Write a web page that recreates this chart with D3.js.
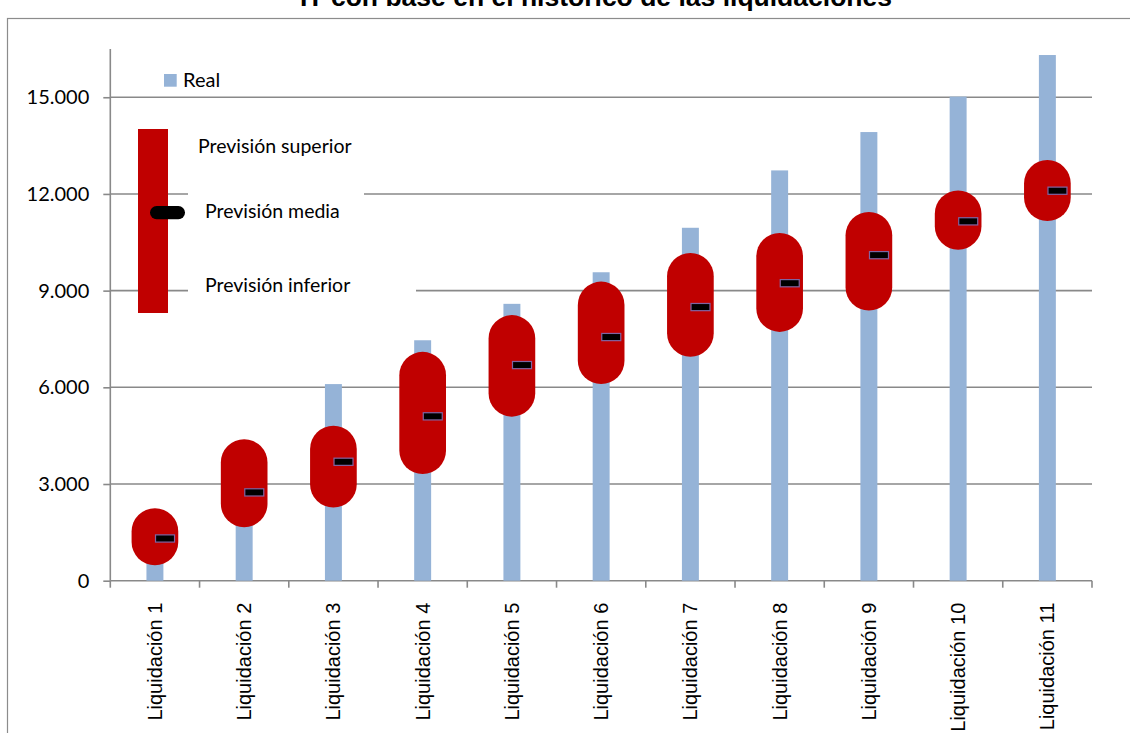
<!DOCTYPE html>
<html>
<head>
<meta charset="utf-8">
<script src="https://cdn.jsdelivr.net/npm/d3@7"></script>
<style>
  html, body { margin: 0; padding: 0; background: #fff; }
  svg { display: block; }
</style>
</head>
<body>
<svg id="chart" width="1130" height="733"></svg>
<script>
// Liquidation series: actual amount and the forecast band (upper, mean, lower)
const categories = ["Liquidación 1", "Liquidación 2", "Liquidación 3", "Liquidación 4",
  "Liquidación 5", "Liquidación 6", "Liquidación 7", "Liquidación 8",
  "Liquidación 9", "Liquidación 10", "Liquidación 11"];
const realValues  = [2000, 4100, 6100, 7460, 8590, 9570, 10950, 12730, 13920, 15020, 16310];
const upperValues = [2250, 4390, 4810, 7100, 8240, 9280, 10170, 10790, 11440, 12110, 13050];
const meanValues  = [1310, 2740, 3690, 5100, 6690, 7560, 8490, 9230, 10100, 11150, 12100];
const lowerValues = [480, 1660, 2270, 3310, 5090, 6100, 6950, 7720, 8380, 10270, 11160];
const yTicks = [0, 3000, 6000, 9000, 12000, 15000];
const titleText = "IT con base en el histórico de las liquidaciones";

const COLORS = { real: "#95b3d7", band: "#c00000", mean: "#000000", meanStroke: "#8064a2", grid: "#898989" };

const svg = d3.select("#chart");
const plot = { left: 110.3, right: 1092, top: 48.9, bottom: 580.7 };

const x = d3.scaleBand().domain(categories).range([plot.left, plot.right]).padding(0);
const y = d3.scaleLinear().domain([0, 16500]).range([plot.bottom, plot.top]);

const esLocale = d3.formatLocale({ decimal: ",", thousands: ".", grouping: [3], currency: ["", " €"] });
const fmt = esLocale.format(",");

// Outer chart frame
svg.append("rect")
  .attr("x", 7.5).attr("y", 18.5).attr("width", 1200).attr("height", 800)
  .attr("fill", "#fff").attr("stroke", "#8c8c8c").attr("stroke-width", 1.2);

// Title (partly above the visible area)
svg.append("text")
  .attr("x", 596).attr("y", 6)
  .attr("text-anchor", "middle")
  .attr("font-family", "Liberation Sans, Arial, sans-serif")
  .attr("font-weight", "bold").attr("font-size", 26.5)
  .attr("fill", "#000")
  .text(titleText);

// Horizontal gridlines
svg.append("g").selectAll("line")
  .data(yTicks.filter(d => d > 0))
  .join("line")
  .attr("x1", plot.left).attr("x2", plot.right)
  .attr("y1", d => y(d)).attr("y2", d => y(d))
  .attr("stroke", COLORS.grid).attr("stroke-width", 1.6);

// Y axis
const yAxis = svg.append("g")
  .attr("transform", `translate(${plot.left},0)`)
  .call(d3.axisLeft(y).tickValues(yTicks).tickSize(7).tickPadding(14).tickFormat(fmt));
yAxis.select(".domain").attr("stroke", COLORS.grid).attr("stroke-width", 1.6)
  .attr("d", `M0,${plot.bottom}V${plot.top}`);
yAxis.selectAll(".tick line").attr("stroke", COLORS.grid).attr("stroke-width", 1.6);
yAxis.selectAll(".tick text")
  .attr("font-family", "Lato, Carlito, sans-serif").attr("font-size", 20).attr("fill", "#000");

// X axis with ticks between categories
const xAxisG = svg.append("g").attr("transform", `translate(0,${plot.bottom})`);
xAxisG.append("line")
  .attr("x1", plot.left).attr("x2", plot.right)
  .attr("stroke", COLORS.grid).attr("stroke-width", 1.6);
const boundaries = categories.map(c => x(c)).concat([x(categories[categories.length - 1]) + x.bandwidth()]);
xAxisG.selectAll("line.sep").data(boundaries).join("line")
  .attr("class", "sep")
  .attr("x1", d => d).attr("x2", d => d).attr("y1", 0).attr("y2", 7)
  .attr("stroke", COLORS.grid).attr("stroke-width", 1.6);
xAxisG.selectAll("text").data(categories).join("text")
  .attr("transform", d => `translate(${x(d) + x.bandwidth() / 2},22) rotate(-90)`)
  .attr("text-anchor", "end")
  .attr("dy", "0.35em")
  .attr("font-family", "Liberation Sans, Arial, sans-serif")
  .attr("font-size", 20).attr("fill", "#000")
  .text(d => d);

// Actual values as thin columns
const barW = x.bandwidth() * 0.19;
svg.append("g").selectAll("rect")
  .data(categories.map((c, i) => ({ c, v: realValues[i] })))
  .join("rect")
  .attr("x", d => x(d.c) + x.bandwidth() / 2 - barW / 2)
  .attr("y", d => y(d.v))
  .attr("width", barW)
  .attr("height", d => y(0) - y(d.v))
  .attr("fill", COLORS.real);

// Forecast range as rounded capsules
const capW = x.bandwidth() * 0.523;
svg.append("g").selectAll("rect")
  .data(categories.map((c, i) => ({ c, hi: upperValues[i], lo: lowerValues[i] })))
  .join("rect")
  .attr("x", d => x(d.c) + x.bandwidth() / 2 - capW / 2)
  .attr("y", d => y(d.hi))
  .attr("width", capW)
  .attr("height", d => y(d.lo) - y(d.hi))
  .attr("rx", capW / 2).attr("ry", capW / 2)
  .attr("fill", COLORS.band);

// Mean forecast markers
svg.append("g").selectAll("rect")
  .data(categories.map((c, i) => ({ c, v: meanValues[i] })))
  .join("rect")
  .attr("x", d => x(d.c) + x.bandwidth() / 2 + 0.6)
  .attr("y", d => y(d.v) - 3.6)
  .attr("width", 19)
  .attr("height", 7.2)
  .attr("fill", COLORS.mean)
  .attr("stroke", COLORS.meanStroke).attr("stroke-width", 1.2);

// Legend
const legend = svg.append("g");
legend.append("rect").attr("x", 164).attr("y", 74).attr("width", 12.7).attr("height", 12.7).attr("fill", COLORS.real);
legend.append("text").attr("x", 183).attr("y", 87)
  .attr("font-family", "Lato, Carlito, sans-serif").attr("font-size", 20).text("Real");

legend.append("rect").attr("x", 188).attr("y", 186).attr("width", 176).attr("height", 40).attr("fill", "#fff");
legend.append("rect").attr("x", 188).attr("y", 268).attr("width", 228).attr("height", 40).attr("fill", "#fff");

legend.append("rect").attr("x", 138).attr("y", 129).attr("width", 30).attr("height", 184).attr("fill", COLORS.band);
legend.append("rect").attr("x", 150).attr("y", 206).attr("width", 35).attr("height", 13.3)
  .attr("rx", 6.6).attr("ry", 6.6).attr("fill", COLORS.mean);

const legendFont = "Lato, Carlito, sans-serif";
legend.append("text").attr("x", 198).attr("y", 153).attr("font-family", legendFont).attr("font-size", 19.5).text("Previsión superior");
legend.append("text").attr("x", 205).attr("y", 218).attr("font-family", legendFont).attr("font-size", 19.5).text("Previsión media");
legend.append("text").attr("x", 205).attr("y", 292).attr("font-family", legendFont).attr("font-size", 19.5).text("Previsión inferior");
</script>
</body>
</html>
